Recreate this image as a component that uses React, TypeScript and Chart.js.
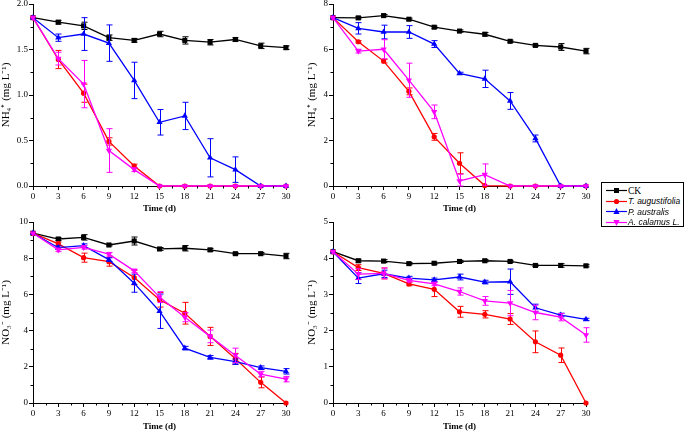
import React, { useEffect, useRef } from 'react';
import { Chart, registerables } from 'chart.js';

Chart.register(...registerables);

// ---------- data ----------
const days = [0, 3, 6, 9, 12, 15, 18, 21, 24, 27, 30];
const seriesLabels = ['CK', 'T. augustifolia', 'P. australis', 'A. calamus L.'];

// NH4+ (left panel)
const ckA = [1.85, 1.80, 1.76, 1.63, 1.60, 1.67, 1.60, 1.58, 1.61, 1.54, 1.52];
const ckAerr = [0, 0.02, 0.04, 0.03, 0.02, 0.03, 0.04, 0.03, 0.02, 0.03, 0.02];
const taA = [1.85, 1.39, 1.02, 0.49, 0.22, 0, 0, 0, 0, 0, 0];
const taAerr = [0, 0.1, 0.1, 0.04, 0.02, 0, 0, 0, 0, 0, 0];
const paA = [1.85, 1.63, 1.67, 1.57, 1.16, 0.70, 0.77, 0.31, 0.18, 0, 0];
const paAerr = [0, 0.04, 0.18, 0.2, 0.2, 0.14, 0.15, 0.21, 0.14, 0, 0];
const acA = [1.85, 1.40, 1.12, 0.39, 0.18, 0, 0, 0, 0, 0, 0];
const acAerr = [0, 0.07, 0.26, 0.24, 0.02, 0, 0, 0, 0, 0, 0];

// NH4+ (right panel)
const ckB = [7.40, 7.39, 7.49, 7.33, 6.98, 6.81, 6.67, 6.36, 6.18, 6.11, 5.93];
const ckBerr = [0, 0.05, 0.05, 0.05, 0.05, 0.05, 0.08, 0.05, 0.05, 0.15, 0.12];
const taB = [7.40, 6.34, 5.49, 4.16, 2.16, 1.0, 0.02, 0, 0, 0, 0];
const taBerr = [0, 0.05, 0.08, 0.15, 0.15, 0.46, 0, 0, 0, 0, 0];
const paB = [7.40, 6.93, 6.77, 6.77, 6.24, 4.95, 4.71, 3.74, 2.09, 0, 0];
const paBerr = [0, 0.25, 0.3, 0.28, 0.15, 0.05, 0.38, 0.37, 0.15, 0, 0];
const acB = [7.40, 5.93, 6.01, 4.65, 3.26, 0.22, 0.50, 0, 0, 0, 0];
const acBerr = [0, 0.08, 0.42, 0.75, 0.3, 0.3, 0.47, 0, 0, 0, 0];

// NO3- (left panel)
const ckC = [9.38, 9.06, 9.15, 8.73, 8.95, 8.51, 8.55, 8.46, 8.25, 8.25, 8.12];
const ckCerr = [0, 0.08, 0.15, 0.05, 0.22, 0.08, 0.15, 0.08, 0.06, 0.06, 0.15];
const taC = [9.38, 8.79, 8.03, 7.81, 6.93, 5.70, 4.96, 3.68, 2.44, 1.14, 0];
const taCerr = [0, 0.1, 0.25, 0.25, 0.4, 0.4, 0.6, 0.5, 0.3, 0.3, 0];
const paC = [9.38, 8.58, 8.69, 7.92, 6.62, 5.07, 3.03, 2.52, 2.28, 1.95, 1.75];
const paCerr = [0, 0.1, 0.1, 0.1, 0.5, 0.95, 0.1, 0.1, 0.15, 0.1, 0.15];
const acC = [9.38, 8.46, 8.60, 8.22, 7.30, 5.85, 4.74, 3.68, 2.63, 1.60, 1.32];
const acCerr = [0, 0.1, 0.1, 0.1, 0.1, 0.3, 0.25, 0.35, 0.4, 0.15, 0.15];

// NO3- (right panel)
const ckD = [4.18, 3.93, 3.92, 3.85, 3.86, 3.91, 3.93, 3.91, 3.80, 3.80, 3.79];
const ckDerr = [0, 0.04, 0.04, 0.03, 0.03, 0.03, 0.03, 0.03, 0.03, 0.05, 0.03];
const taD = [4.18, 3.74, 3.58, 3.29, 3.14, 2.52, 2.45, 2.32, 1.69, 1.32, 0];
const taDerr = [0, 0.08, 0.15, 0.05, 0.2, 0.15, 0.1, 0.15, 0.3, 0.2, 0];
const paD = [4.18, 3.45, 3.57, 3.45, 3.40, 3.48, 3.34, 3.35, 2.63, 2.43, 2.31];
const paDerr = [0, 0.15, 0.1, 0.05, 0.05, 0.08, 0.05, 0.35, 0.1, 0.05, 0.03];
const acD = [4.18, 3.56, 3.58, 3.39, 3.29, 3.08, 2.82, 2.76, 2.50, 2.37, 1.88];
const acDerr = [0, 0.15, 0.15, 0.05, 0.05, 0.1, 0.12, 0.35, 0.2, 0.1, 0.2];

const xTitle = 'Time (d)';
const nhTitle = 'NH₄⁺ (mg L⁻¹)';
const noTitle = 'NO₃⁻ (mg L⁻¹)';

// ---------- styles ----------
const SERIF = '"Liberation Serif", "Times New Roman", serif';
const SANS = '"Liberation Sans", Arial, sans-serif';

const seriesStyle = [
  { color: '#000000', pointStyle: 'rect', rotation: 0, radius: 3.6, order: 3 },
  { color: '#ff0000', pointStyle: 'circle', rotation: 0, radius: 2.6, order: 2 },
  { color: '#0000ff', pointStyle: 'triangle', rotation: 0, radius: 3.6, order: 1 },
  { color: '#ff00ff', pointStyle: 'triangle', rotation: 180, radius: 3.6, order: 0 },
];

const panels = [
  { values: [ckA, taA, paA, acA], errors: [ckAerr, taAerr, paAerr, acAerr], yMax: 2, yStep: 0.5, yMinor: 0.25, dec: 1, title: nhTitle, left: 0, top: -8, titlePad: 0, axisH: 28 },
  { values: [ckB, taB, paB, acB], errors: [ckBerr, taBerr, paBerr, acBerr], yMax: 8, yStep: 2, yMinor: 1, dec: 0, title: nhTitle, left: 300, top: -8, titlePad: 5.2, axisH: 28 },
  { values: [ckC, taC, paC, acC], errors: [ckCerr, taCerr, paCerr, acCerr], yMax: 10, yStep: 2, yMinor: 1, dec: 0, title: noTitle, left: 0, top: 210, titlePad: 0, axisH: 29 },
  { values: [ckD, taD, paD, acD], errors: [ckDerr, taDerr, paDerr, acDerr], yMax: 5, yStep: 1, yMinor: 0.5, dec: 0, title: noTitle, left: 300, top: 210, titlePad: 5.2, axisH: 29 },
];

const CANVAS_W = 300;
const CANVAS_H = 222;

// ---------- plugins ----------
const errorBarsPlugin = {
  id: 'errorBars',
  afterDatasetDraw(chart: any, args: any) {
    const ds: any = chart.data.datasets[args.index];
    const errs: number[] = ds.errors;
    if (!errs) return;
    const { ctx } = chart;
    const xs = chart.scales.x;
    const ys = chart.scales.y;
    ctx.save();
    ctx.strokeStyle = ds.borderColor;
    ctx.lineWidth = 1;
    ds.data.forEach((p: any, i: number) => {
      const e = errs[i];
      if (!e) return;
      const px = Math.round(xs.getPixelForValue(p.x)) + 0.5;
      const yt = ys.getPixelForValue(p.y + e);
      const yb = ys.getPixelForValue(Math.max(p.y - e, 0));
      ctx.beginPath();
      ctx.moveTo(px, yt);
      ctx.lineTo(px, yb);
      ctx.moveTo(px - 3, yt);
      ctx.lineTo(px + 3, yt);
      ctx.moveTo(px - 3, yb);
      ctx.lineTo(px + 3, yb);
      ctx.stroke();
    });
    ctx.restore();
  },
};

const minorTicksPlugin = {
  id: 'minorTicks',
  afterDraw(chart: any, _args: any, opts: any) {
    const { ctx, chartArea } = chart;
    const xs = chart.scales.x;
    const ys = chart.scales.y;
    ctx.save();
    ctx.strokeStyle = '#000';
    ctx.lineWidth = 1;
    ctx.beginPath();
    for (let v = xs.min + opts.x; v < xs.max; v += opts.x * 2) {
      const px = Math.round(xs.getPixelForValue(v)) + 0.5;
      ctx.moveTo(px, chartArea.bottom);
      ctx.lineTo(px, chartArea.bottom + 2.5);
    }
    for (let v = ys.min + opts.y; v < ys.max; v += opts.y * 2) {
      const py = Math.round(ys.getPixelForValue(v)) + 0.5;
      ctx.moveTo(chartArea.left, py);
      ctx.lineTo(chartArea.left - 2.5, py);
    }
    ctx.stroke();
    ctx.restore();
  },
};

function buildConfig(p: any): any {
  const datasets = p.values.map((vals: number[], si: number) => {
    const s = seriesStyle[si];
    return {
      label: seriesLabels[si],
      data: days.map((d, i) => ({ x: d, y: vals[i] })),
      errors: p.errors[si],
      borderColor: s.color,
      backgroundColor: s.color,
      borderWidth: 1.3,
      pointStyle: s.pointStyle,
      pointRotation: s.rotation,
      pointRadius: s.radius,
      pointBorderWidth: 0,
      pointBackgroundColor: s.color,
      tension: 0,
      order: s.order,
      clip: false,
    };
  });
  return {
    type: 'line',
    data: { datasets },
    plugins: [errorBarsPlugin, minorTicksPlugin],
    options: {
      animation: false,
      responsive: false,
      maintainAspectRatio: false,
      events: [],
      layout: { padding: { top: 12, right: 14, bottom: 0, left: 0 } },
      plugins: {
        legend: { display: false },
        tooltip: { enabled: false },
        minorTicks: { x: 1.5, y: p.yMinor },
      },
      scales: {
        x: {
          type: 'linear',
          min: 0,
          max: 30,
          afterFit: (s: any) => { s.height = p.axisH; },
          grid: { drawOnChartArea: false, drawTicks: true, tickLength: 4, color: '#000' },
          border: { display: true, color: '#000', width: 1 },
          ticks: {
            stepSize: 3,
            autoSkip: false,
            maxRotation: 0,
            padding: 1,
            color: '#000',
            font: { family: SERIF, size: 9 },
          },
          title: {
            display: true,
            text: xTitle,
            color: '#000',
            padding: { top: 0, bottom: 0 },
            font: { family: SERIF, size: 9, weight: 'bold' },
          },
        },
        y: {
          type: 'linear',
          min: 0,
          max: p.yMax,
          afterFit: (s: any) => { s.width = 33; },
          grid: { drawOnChartArea: false, drawTicks: true, tickLength: 4, color: '#000' },
          border: { display: true, color: '#000', width: 1 },
          ticks: {
            stepSize: p.yStep,
            autoSkip: false,
            padding: 1,
            color: '#000',
            font: { family: SERIF, size: 9 },
            callback: (v: any) => Number(v).toFixed(p.dec),
          },
          title: {
            display: true,
            text: p.title,
            color: '#000',
            padding: { top: p.titlePad, bottom: 0 },
            font: { family: SERIF, size: 11 },
          },
        },
      },
    },
  };
}

function Panel({ p }: { p: any }) {
  const ref = useRef<HTMLCanvasElement | null>(null);
  useEffect(() => {
    if (!ref.current) return;
    const chart = new Chart(ref.current, buildConfig(p));
    return () => chart.destroy();
  }, [p]);
  return (
    <canvas
      ref={ref}
      width={CANVAS_W}
      height={CANVAS_H}
      style={{ position: 'absolute', left: p.left, top: p.top, width: CANVAS_W, height: CANVAS_H }}
    />
  );
}

function Marker({ i }: { i: number }) {
  const c = seriesStyle[i].color;
  let shape: any = null;
  if (i === 0) shape = <rect x={8} y={2} width={5} height={5} fill={c} />;
  else if (i === 1) shape = <circle cx={10.5} cy={4.5} r={2.6} fill={c} />;
  else if (i === 2) shape = <polygon points="10.5,1 13.6,7 7.4,7" fill={c} />;
  else shape = <polygon points="10.5,8 13.6,2 7.4,2" fill={c} />;
  return (
    <svg width={21} height={9} style={{ position: 'absolute', left: 4, top: 0.5 }}>
      <line x1={0} y1={4.5} x2={21} y2={4.5} stroke={c} strokeWidth={1.2} />
      {shape}
    </svg>
  );
}

function Legend() {
  return (
    <div
      style={{
        position: 'absolute',
        left: 601,
        top: 182,
        width: 83,
        height: 45,
        border: '1px solid #000',
        boxSizing: 'border-box',
        background: '#fff',
      }}
    >
      {seriesLabels.map((label, i) => (
        <div
          key={label}
          style={{ position: 'absolute', left: 0, top: 2.5 + i * 10.6, height: 10, width: 81 }}
        >
          <Marker i={i} />
          <span
            style={{
              position: 'absolute',
              left: 26,
              top: 0,
              lineHeight: '10px',
              whiteSpace: 'nowrap',
              fontFamily: i === 0 ? SERIF : SANS,
              fontStyle: i === 0 ? 'normal' : 'italic',
              fontSize: i === 0 ? 9.5 : 8.5,
              color: '#000',
            }}
          >
            {label}
          </span>
        </div>
      ))}
    </div>
  );
}

export default function App() {
  return (
    <div
      style={{
        position: 'absolute',
        left: 0,
        top: 0,
        width: 685,
        height: 431,
        overflow: 'hidden',
        background: '#fff',
      }}
    >
      {panels.map((p, i) => (
        <Panel key={i} p={p} />
      ))}
      <Legend />
    </div>
  );
}
